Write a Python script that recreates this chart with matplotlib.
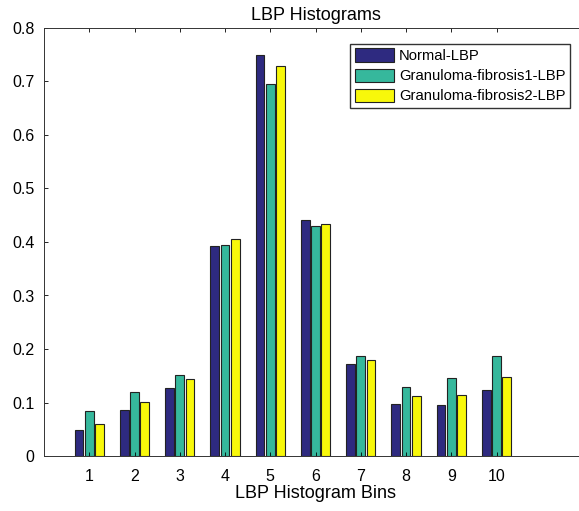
import numpy as np
import matplotlib.pyplot as plt

plt.rcParams['font.family'] = ['Liberation Sans', 'DejaVu Sans']

# LBP histogram bins and values per class
bins = np.arange(1, 11)
normal = [0.049, 0.086, 0.128, 0.393, 0.750, 0.442, 0.172, 0.097, 0.095, 0.123]
fibrosis1 = [0.084, 0.120, 0.152, 0.395, 0.695, 0.430, 0.186, 0.129, 0.146, 0.186]
fibrosis2 = [0.060, 0.101, 0.144, 0.406, 0.729, 0.433, 0.179, 0.112, 0.114, 0.148]
labels = ["Normal-LBP", "Granuloma-fibrosis1-LBP", "Granuloma-fibrosis2-LBP"]
colors = ["#2e2a80", "#36b89c", "#f8f80a"]

fig = plt.figure(figsize=(5.79, 5.11), dpi=100)
ax = fig.add_axes([44/579, 55/511, 543/579, 428/511])

step = 0.227
width = 0.19
for i, (vals, lab, col) in enumerate(zip([normal, fibrosis1, fibrosis2], labels, colors)):
    ax.bar(bins + (i - 1) * step, vals, width, color=col, edgecolor="#222222",
           linewidth=0.8, label=lab)

ax.set_xlim(0, 12)
ax.set_ylim(0, 0.8)
ax.set_xticks(bins)
ax.set_yticks(np.arange(0, 0.81, 0.1))
ax.set_yticklabels(["0", "0.1", "0.2", "0.3", "0.4", "0.5", "0.6", "0.7", "0.8"])
ax.tick_params(direction="in", top=True, length=3, labelsize=11.5, width=0.6)
ax.tick_params(axis="x", pad=9)
ax.tick_params(axis="y", pad=7)
for s in ax.spines.values():
    s.set_linewidth(0.7)
    s.set_color("#333333")

ax.set_title("LBP Histograms", fontsize=13, pad=6)
ax.set_xlabel("LBP Histogram Bins", fontsize=13, labelpad=1)

ax.legend(loc="upper right", bbox_to_anchor=(570/579, 1 - 44/511),
          bbox_transform=fig.transFigure, fontsize=10.6, fancybox=False,
          framealpha=1, edgecolor="#333333", handlelength=2.67, handleheight=1.0,
          labelspacing=0.38, handletextpad=0.35, borderpad=0.3, borderaxespad=0)

fig.savefig("out.png", dpi=100)
